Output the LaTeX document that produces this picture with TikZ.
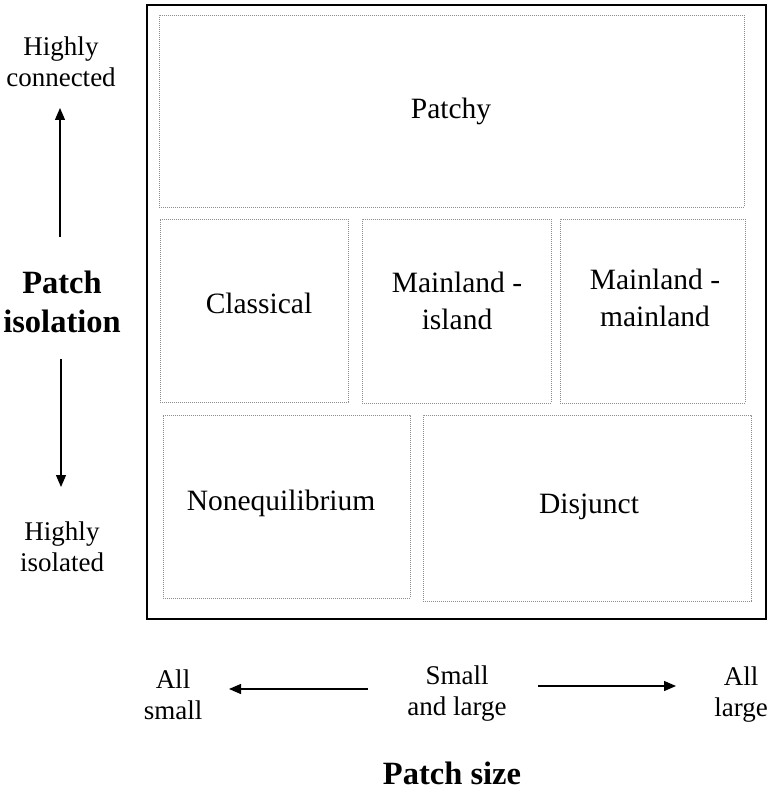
\documentclass[tikz,border=0pt]{standalone}
\usepackage{fontspec}
\setmainfont{Liberation Serif}
\usetikzlibrary{arrows.meta}
\begin{document}
\begin{tikzpicture}[x=1pt,y=-1pt,
  cell/.style={draw=black!45, dash pattern=on 0.9pt off 1.1pt, line width=0.7pt, inner sep=0pt},
  celltext/.style={align=center, font=\fontsize{29.5}{37}\selectfont},
  side/.style={align=center, font=\fontsize{27}{31}\selectfont},
  axis/.style={align=center, font=\bfseries\fontsize{32.5}{39}\selectfont},
  arr/.style={line width=1.3pt, -{Triangle[length=12pt,width=10pt]}}]
\useasboundingbox (0,0) rectangle (769,791);
% outer frame
\node[draw, line width=1.8pt, minimum width=619pt, minimum height=614pt, inner sep=0pt] (frame) at (456.5,312) {};
% cells
\node[cell, minimum width=585pt, minimum height=192pt] (patchy) at (451.5,111) {};
\node[cell, minimum width=188pt, minimum height=183pt] (classical) at (254,310.5) {};
\node[cell, minimum width=189pt, minimum height=184pt] (mi) at (456.5,311) {};
\node[cell, minimum width=185pt, minimum height=184pt] (mm) at (652.5,311) {};
\node[cell, minimum width=247pt, minimum height=183pt] (noneq) at (286.5,506.5) {};
\node[cell, minimum width=328pt, minimum height=186pt] (disj) at (587,508) {};
% cell texts
\node[celltext] (tpatchy) at (451,111) {Patchy};
\node[celltext] (tclass) at (259,303) {Classical};
\node[celltext] (tmi) at (457,301) {Mainland -\\island};
\node[celltext] (tmm) at (655,298) {Mainland -\\mainland};
\node[celltext] (tnoneq) at (281,503) {Nonequilibrium};
\node[celltext] (tdisj) at (589,507) {Disjunct};
% left axis
\node[side] (hc) at (61,62) {Highly\\connected};
\node[axis] (piso) at (62,302) {Patch\\isolation};
\node[side] (hi) at (62,547) {Highly\\isolated};
\coordinate (u1) at (60,237);
\coordinate (u2) at (60,108);
\coordinate (d1) at (61,359);
\coordinate (d2) at (61,487);
\draw[arr] (u1) -- (u2);
\draw[arr] (d1) -- (d2);
% bottom axis
\node[side] (as) at (173,695) {All\\small};
\node[side] (sl) at (457,694) {Small\\and large};
\node[side] (al) at (741,695) {All\\large};
\node[axis] (psize) at (452,773) {Patch size};
\coordinate (l1) at (368,689);
\coordinate (l2) at (229,689);
\coordinate (r1) at (538,686);
\coordinate (r2) at (676,686);
\draw[arr] (l1) -- (l2);
\draw[arr] (r1) -- (r2);
\end{tikzpicture}
\end{document}
